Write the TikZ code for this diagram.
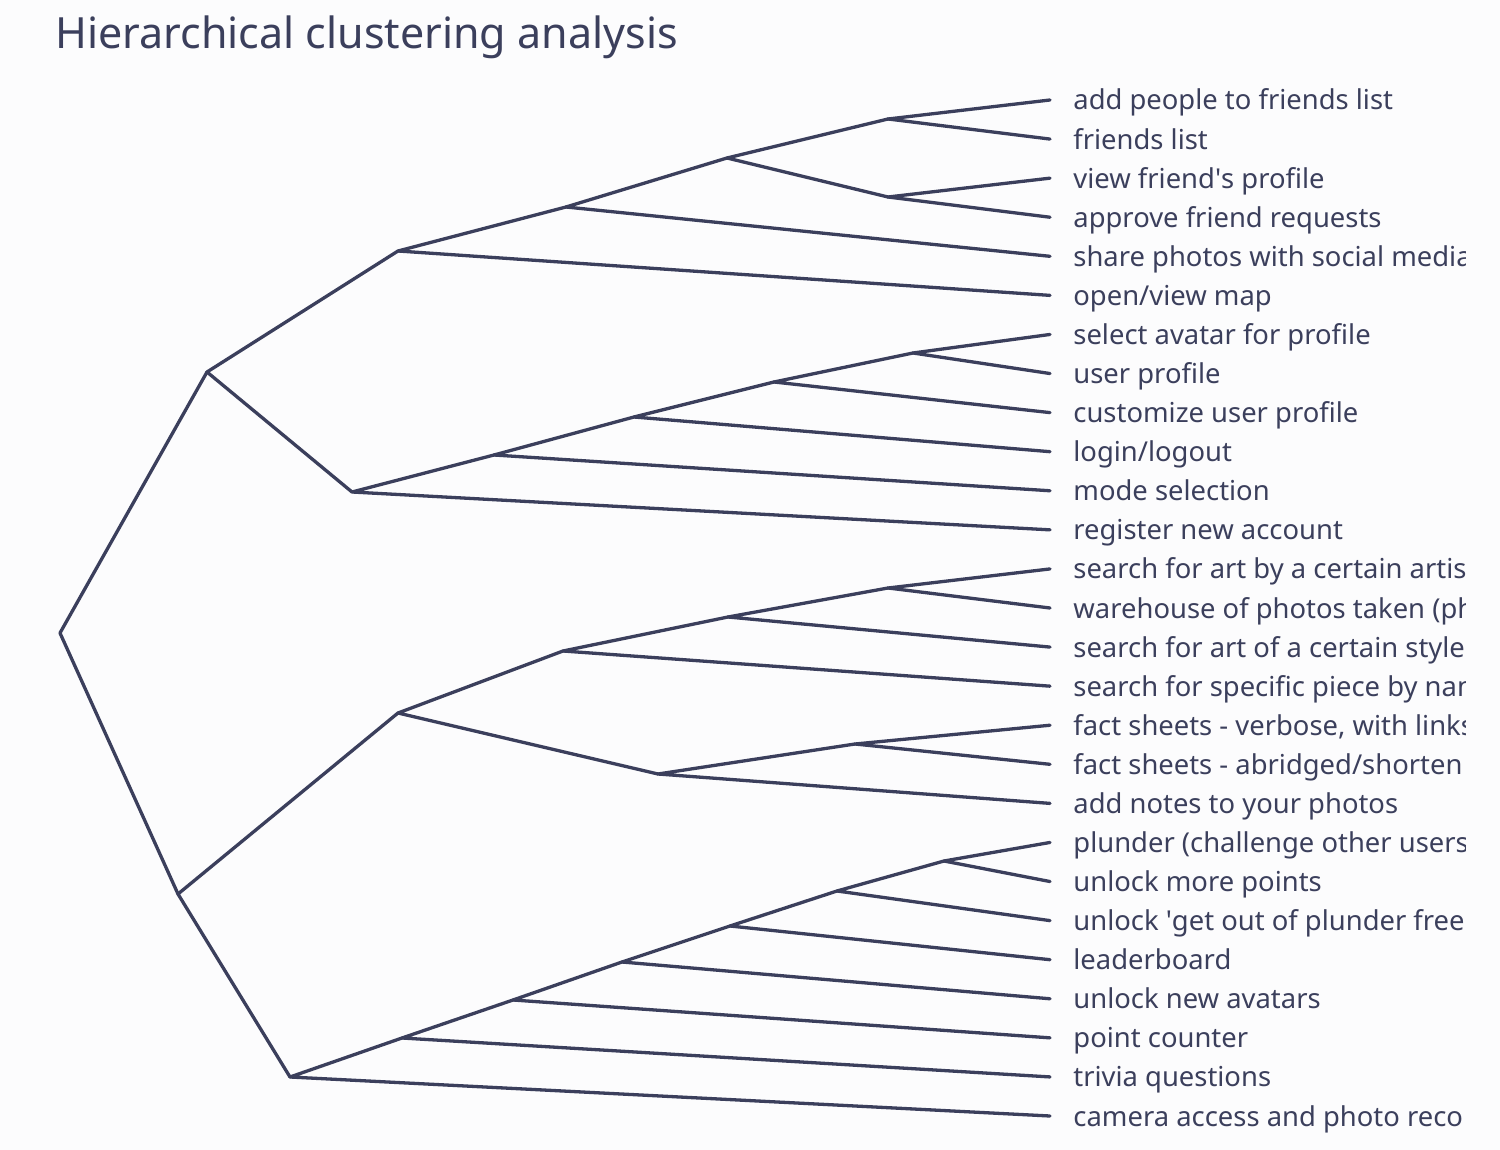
\documentclass[tikz,border=0pt]{standalone}
\usepackage{fontspec}
\setmainfont{Noto Sans}
\definecolor{ink}{HTML}{3B3F5C}
\definecolor{bg}{HTML}{FCFCFD}
\begin{document}
\begin{tikzpicture}[x=0.5pt,y=-0.5pt,
  branch/.style={draw=ink,line width=1.65pt,line cap=round,line join=round},
  leaflabel/.style={anchor=base west,inner sep=0pt,text=ink,font=\fontsize{13.7}{15}\selectfont},
  titlelabel/.style={anchor=base west,inner sep=0pt,text=ink,font=\fontsize{21.5}{26}\selectfont}]
\fill[bg] (0,0) rectangle (1500,1150);
\useasboundingbox (0,0) rectangle (1500,1150);
\node[titlelabel] (title) at (55,49) {Hierarchical clustering analysis};
% leaves
\foreach \i in {0,...,26}{
  \coordinate (l\i) at (1050,{100+39.077*\i});
}
% internal nodes
\coordinate (a1) at (888,119);
\coordinate (a2) at (888,197);
\coordinate (a3) at (727,158);
\coordinate (a4) at (566,207);
\coordinate (a5) at (398,251);
\coordinate (b1) at (913,353);
\coordinate (b2) at (774,382);
\coordinate (b3) at (634,417);
\coordinate (b4) at (494,455);
\coordinate (b5) at (352,492);
\coordinate (ab) at (207,372);
\coordinate (c1) at (888,588);
\coordinate (c2) at (728,617);
\coordinate (c3) at (563,651);
\coordinate (c4) at (855,744);
\coordinate (c5) at (658,774);
\coordinate (c6) at (398,713);
\coordinate (d1) at (944,861);
\coordinate (d2) at (837,891);
\coordinate (d3) at (730,926);
\coordinate (d4) at (622,962);
\coordinate (d5) at (513,1000);
\coordinate (d6) at (402,1038);
\coordinate (d7) at (290,1077);
\coordinate (cd) at (178,894);
\coordinate (root) at (60,633);
% branches
\draw[branch] (l0) -- (a1) -- (l1);
\draw[branch] (l2) -- (a2) -- (l3);
\draw[branch] (a1) -- (a3) -- (a2);
\draw[branch] (a3) -- (a4) -- (l4);
\draw[branch] (a4) -- (a5) -- (l5);
\draw[branch] (l6) -- (b1) -- (l7);
\draw[branch] (b1) -- (b2) -- (l8);
\draw[branch] (b2) -- (b3) -- (l9);
\draw[branch] (b3) -- (b4) -- (l10);
\draw[branch] (b4) -- (b5) -- (l11);
\draw[branch] (a5) -- (ab) -- (b5);
\draw[branch] (l12) -- (c1) -- (l13);
\draw[branch] (c1) -- (c2) -- (l14);
\draw[branch] (c2) -- (c3) -- (l15);
\draw[branch] (l16) -- (c4) -- (l17);
\draw[branch] (c4) -- (c5) -- (l18);
\draw[branch] (c3) -- (c6) -- (c5);
\draw[branch] (l19) -- (d1) -- (l20);
\draw[branch] (d1) -- (d2) -- (l21);
\draw[branch] (d2) -- (d3) -- (l22);
\draw[branch] (d3) -- (d4) -- (l23);
\draw[branch] (d4) -- (d5) -- (l24);
\draw[branch] (d5) -- (d6) -- (l25);
\draw[branch] (d6) -- (d7) -- (l26);
\draw[branch] (c6) -- (cd) -- (d7);
\draw[branch] (ab) -- (root) -- (cd);
% labels
\begin{scope}
\clip (1060,60) rectangle (1465,1150);
\foreach \txt [count=\k from 0] in {
  add people to friends list,
  friends list,
  view friend\textquotesingle s profile,
  approve friend requests,
  share photos with social media,
  open/view map,
  select avatar for profile,
  user profile,
  customize user profile,
  login/logout,
  mode selection,
  register new account,
  search for art by a certain artis,
  warehouse of photos taken (ph,
  search for art of a certain style,
  search for specific piece by nam,
  {fact sheets - verbose, with links},
  fact sheets - abridged/shorten,
  add notes to your photos,
  plunder (challenge other users,
  unlock more points,
  unlock \textquotesingle get out of plunder free,
  leaderboard,
  unlock new avatars,
  point counter,
  trivia questions,
  camera access and photo reco}{
  \node[leaflabel] (t\k) at ([xshift=11.5pt,yshift=-5pt]l\k) {\txt};
}
\end{scope}
\end{tikzpicture}
\end{document}
